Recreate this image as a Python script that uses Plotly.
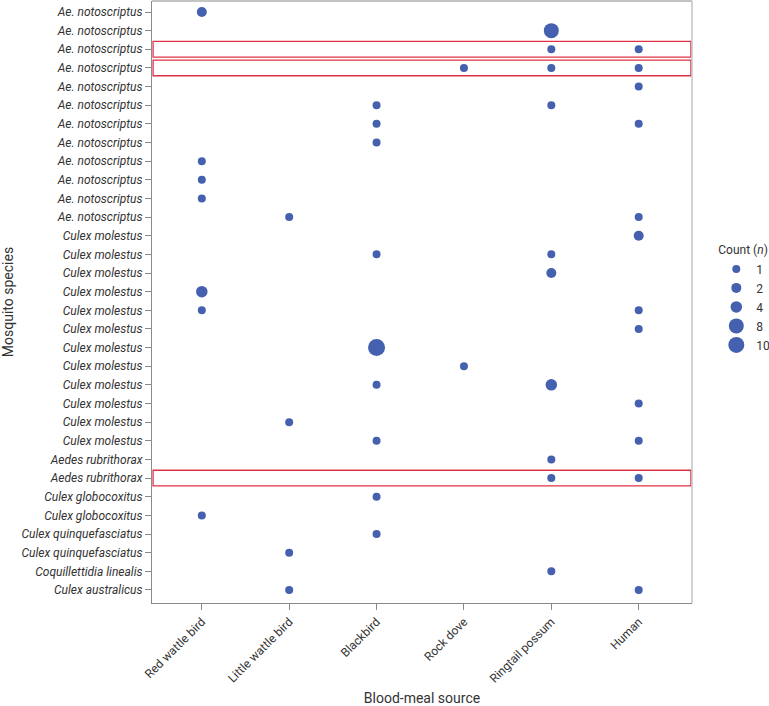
import plotly.graph_objects as go

sources = ["Red wattle bird", "Little wattle bird", "Blackbird", "Rock dove", "Ringtail possum", "Human"]

species = [
    "Ae. notoscriptus", "Ae. notoscriptus", "Ae. notoscriptus", "Ae. notoscriptus",
    "Ae. notoscriptus", "Ae. notoscriptus", "Ae. notoscriptus", "Ae. notoscriptus",
    "Ae. notoscriptus", "Ae. notoscriptus", "Ae. notoscriptus", "Ae. notoscriptus",
    "Culex molestus", "Culex molestus", "Culex molestus", "Culex molestus",
    "Culex molestus", "Culex molestus", "Culex molestus", "Culex molestus",
    "Culex molestus", "Culex molestus", "Culex molestus", "Culex molestus",
    "Aedes rubrithorax", "Aedes rubrithorax", "Culex globocoxitus", "Culex globocoxitus",
    "Culex quinquefasciatus", "Culex quinquefasciatus", "Coquillettidia linealis", "Culex australicus",
]

# (row index 1-based, source, count)
row_idx = [1, 2, 3, 3, 4, 4, 4, 5, 6, 6, 7, 7, 8, 9, 10, 11, 12, 12,
           13, 14, 14, 15, 16, 17, 17, 18, 19, 20, 21, 21, 22, 23, 24, 24,
           25, 26, 26, 27, 28, 29, 30, 31, 32, 32]
row_src = ["Red wattle bird", "Ringtail possum", "Ringtail possum", "Human",
           "Rock dove", "Ringtail possum", "Human", "Human",
           "Blackbird", "Ringtail possum", "Blackbird", "Human", "Blackbird",
           "Red wattle bird", "Red wattle bird", "Red wattle bird",
           "Little wattle bird", "Human",
           "Human", "Blackbird", "Ringtail possum", "Ringtail possum",
           "Red wattle bird", "Red wattle bird", "Human", "Human",
           "Blackbird", "Rock dove", "Blackbird", "Ringtail possum", "Human",
           "Little wattle bird", "Blackbird", "Human",
           "Ringtail possum", "Ringtail possum", "Human", "Blackbird",
           "Red wattle bird", "Blackbird", "Little wattle bird", "Ringtail possum",
           "Little wattle bird", "Human"]
row_count = [2, 8, 1, 1, 1, 1, 1, 1, 1, 1, 1, 1, 1, 1, 1, 1, 1, 1,
             2, 1, 1, 2, 4, 1, 1, 1, 10, 1, 1, 4, 1, 1, 1, 1,
             1, 1, 1, 1, 1, 1, 1, 1, 1, 1]

legend_counts = [1, 2, 4, 8, 10]
highlight_rows = [3, 4, 26]

size_map = {1: 8, 2: 10, 4: 11.5, 8: 15, 10: 17}
color = "#4460ae"

fig = go.Figure()
fig.add_trace(go.Scatter(
    x=[sources.index(s) for s in row_src],
    y=row_idx,
    mode="markers",
    marker=dict(color=color, opacity=1, size=[size_map[c] for c in row_count], line=dict(width=0)),
    showlegend=False,
))
for c in legend_counts:
    fig.add_trace(go.Scatter(
        x=[None], y=[None], mode="markers", name=str(c),
        marker=dict(color=color, size=size_map[c], line=dict(width=0)),
    ))

for r in highlight_rows:
    fig.add_shape(type="rect", xref="paper", yref="y", x0=0.002, x1=0.998,
                  y0=r - 0.42, y1=r + 0.42, line=dict(color="#e03245", width=1.3))
# top and right frame lines
fig.add_shape(type="line", xref="paper", yref="paper", x0=0, x1=1, y0=1, y1=1,
              line=dict(color="#8a8a8a", width=1.2))
fig.add_shape(type="line", xref="paper", yref="paper", x0=1, x1=1, y0=0, y1=1,
              line=dict(color="#c4c4c4", width=1.5))

font_family = "Roboto, Liberation Sans, sans-serif"
fig.update_layout(
    width=769, height=706,
    margin=dict(l=152, r=77, t=1, b=103, autoexpand=False),
    plot_bgcolor="white", paper_bgcolor="white",
    font=dict(family=font_family, size=12, color="#333"),
    xaxis=dict(
        tickmode="array", tickvals=list(range(len(sources))), ticktext=sources,
        range=[-0.57, 5.61], tickangle=-45, showgrid=False, zeroline=False,
        showline=True, linecolor="#8a8a8a", linewidth=1.2,
        ticks="outside", ticklen=6, tickcolor="#8a8a8a",
        tickfont=dict(size=12, color="#333"),
        title=dict(text="Blood-meal source", font=dict(size=14, color="#333"), standoff=10),
    ),
    yaxis=dict(
        tickmode="array", tickvals=list(range(1, len(species) + 1)),
        ticktext=[f"<i>{s}</i>" for s in species],
        range=[32.7, 0.41], showgrid=False, zeroline=False,
        showline=True, linecolor="#8a8a8a", linewidth=1.2,
        ticks="outside", ticklen=6, tickcolor="#8a8a8a",
        tickfont=dict(size=12, color="#333"),
        title=dict(text="Mosquito species", font=dict(size=14, color="#333"), standoff=6),
    ),
    legend=dict(
        title=dict(text="Count (<i>n</i>)", font=dict(size=12, color="#333")),
        x=1.045, y=0.605, xanchor="left", yanchor="top",
        font=dict(size=12, color="#333"), itemsizing="trace",
        bgcolor="rgba(0,0,0,0)",
    ),
)

fig.write_html("out.html", config={"displayModeBar": False},
               post_script="document.body.style.margin='0px';")
